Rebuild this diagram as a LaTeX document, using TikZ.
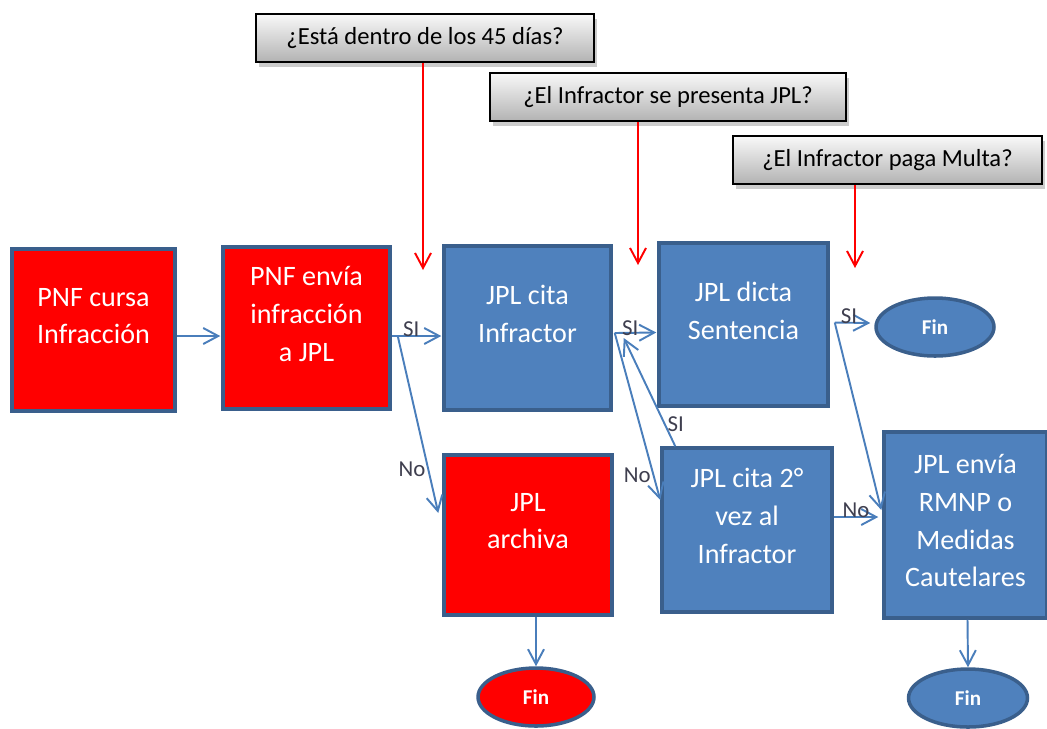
\documentclass[tikz,border=0pt]{standalone}
\usepackage{fontspec}
\setmainfont{Carlito}
\usepackage{tikz}
\usetikzlibrary{calc}
\usetikzlibrary{arrows.meta, positioning, shapes.geometric, shadows}

\definecolor{boxblue}{HTML}{4F81BD}
\definecolor{edgeblue}{HTML}{3A5F8C}
\definecolor{lineblue}{HTML}{4A7EBB}
\definecolor{labgray}{HTML}{3F3F4F}

\begin{document}
\begin{tikzpicture}[
  x=0.02cm, y=-0.02cm,
  box/.style={draw=edgeblue, line width=2pt, fill=boxblue, text=white,
              align=center, minimum width=3.3cm, minimum height=3.25cm,
              inner sep=2pt, text depth=16pt, font=\fontsize{16}{21.5}\selectfont},
  redbox/.style={box, fill=red},
  fin/.style={ellipse, draw=edgeblue, line width=2pt, fill=boxblue,
              text=white, minimum width=2.36cm, minimum height=1.16cm,
              font=\fontsize{12}{14}\selectfont\bfseries},
  question/.style={draw=black, line width=1pt, top color=gray!5,
              bottom color=gray!60, minimum height=0.96cm,
              font=\fontsize{14}{16}\selectfont,
              drop shadow={shadow xshift=0.6mm, shadow yshift=-0.9mm, opacity=0.4}},
  arrow/.style={-{Straight Barb[length=3mm, width=3.2mm]}, line width=1.1pt, draw=lineblue},
  redarrow/.style={arrow, draw=red},
  lbl/.style={font=\fontsize{13}{15}\selectfont, text=labgray, inner sep=1pt}
]
\useasboundingbox (0,0) rectangle (1047,728);

%% ── Preguntas ───────────────────────────────────────────────────
\node[question, minimum width=6.76cm] (q1) at (425,38) {¿Está dentro de los 45 días?};
\node[question, minimum width=7.12cm] (q2) at (668,97) {¿El Infractor se presenta JPL?};
\node[question, minimum width=6.18cm] (q3) at (887.5,160) {¿El Infractor paga Multa?};

%% ── Cajas ───────────────────────────────────────────────────────
\node[redbox, minimum width=3.26cm, minimum height=3.24cm] (cursa) at (93.5,330)
  {PNF cursa\\Infracción};
\node[redbox, minimum width=3.34cm, minimum height=3.24cm] (envia) at (306.5,328)
  {PNF envía\\infracción\\a JPL};
\node[box, minimum width=3.34cm, minimum height=3.28cm] (cita) at (527.5,328)
  {JPL cita\\Infractor};
\node[box, minimum width=3.38cm, minimum height=3.26cm] (dicta) at (743.5,324.5)
  {JPL dicta\\Sentencia};
\node[fin] (fin1) at (935,327) {Fin};

\node[redbox, minimum width=3.36cm, minimum height=3.2cm] (archiva) at (528,535)
  {JPL\\archiva};
\node[fin, fill=red, minimum width=2.32cm] (fin2) at (536,697) {Fin};
\node[box, minimum width=3.4cm, minimum height=3.28cm] (cita2) at (747,530)
  {JPL cita 2°\\vez al\\Infractor};
\node[box, text depth=5pt, minimum width=3.26cm, minimum height=3.72cm] (rmnp) at (965.5,525)
  {JPL envía\\RMNP o\\Medidas\\Cautelares};
\node[fin, minimum width=2.38cm] (fin3) at (968,698) {Fin};

%% ── Flechas rojas ───────────────────────────────────────────────
\coordinate (t1) at (423,270);
\coordinate (t2) at (638,265);
\coordinate (t3) at (855,268);
\draw[redarrow] (q1.south -| t1) -- (t1);
\draw[redarrow] (q2.south -| t2) -- (t2);
\draw[redarrow] (q3.south -| t3) -- (t3);

%% ── Flechas azules ──────────────────────────────────────────────
\draw[arrow] ($(cursa.east)+(0,6)$) -- ($(envia.west)+(-1,8)$);

\coordinate (b1) at ($(envia.east)+(6,8)$);
\draw[arrow] ($(envia.east)+(0,8)$) -- node[lbl, above, xshift=-3pt, yshift=-2pt] {SI}
  ($(cita.west)+(-1,8)$);
\draw[arrow] (b1) -- node[lbl, left, pos=0.75] {No}
  ($(archiva.west)+(-4,-22)$);

\coordinate (b2) at ($(cita.east)+(2,5)$);
\draw[arrow] (b2) -- node[lbl, above, xshift=-3pt, yshift=-3pt] {SI}
  ($(dicta.west)+(-1,8)$);
\draw[arrow] (b2) -- node[lbl, left, pos=0.85] {No}
  ($(cita2.west)+(0,-30)$);
\draw[arrow] ($(cita2.north west)+(15,0)$) -- node[lbl, right, pos=0.2] {SI}
  ($(cita.east)+(11,10)$);

\coordinate (b3) at ($(dicta.east)+(5,-2)$);
\draw[arrow] (b3) -- node[lbl, above, xshift=-2pt, yshift=-2pt] {SI}
  ($(fin1.west)+(-4,-4)$);
\draw[arrow] (b3) -- ($(rmnp.west)+(-1,-15)$);
\draw[arrow] ($(cita2.east)+(0,-13)$) -- node[lbl, above, yshift=-2pt] {No}
  ($(rmnp.west)+(-4,-8)$);

\draw[arrow] ($(archiva.south)+(8,0)$) -- (fin2.north);
\draw[arrow] ($(rmnp.south)+(2,0)$) -- (fin3.north);

\end{tikzpicture}
\end{document}
